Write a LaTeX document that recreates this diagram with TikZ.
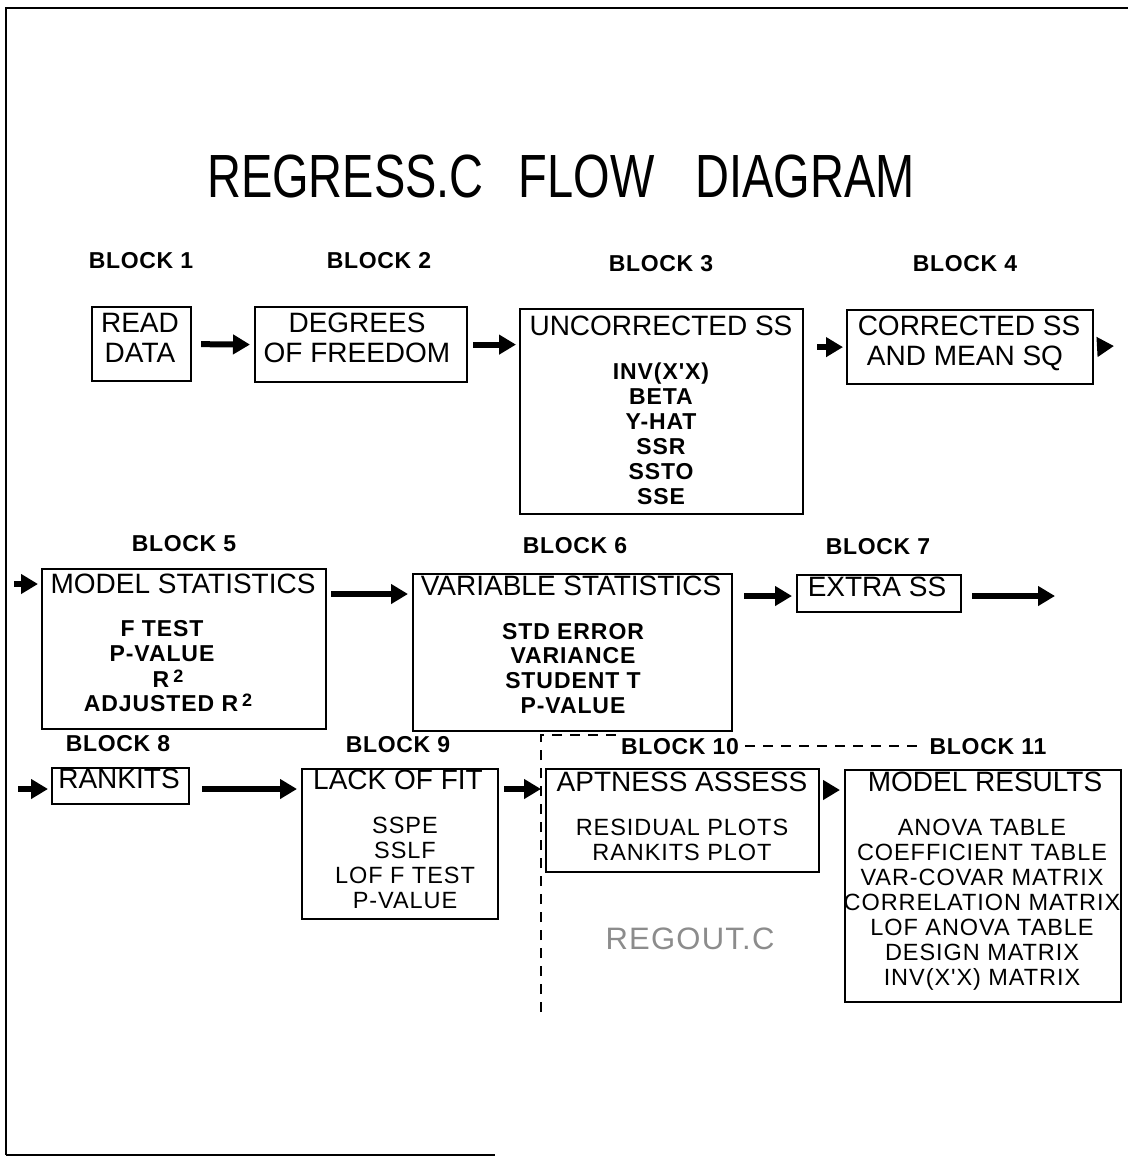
\documentclass[tikz,border=0pt]{standalone}
\usepackage{fontspec}
\setmainfont{Liberation Sans}
\newfontfamily\titlefont[FakeStretch=0.77]{Liberation Sans}
\newfontfamily\itemfont[LetterSpace=4]{Liberation Sans}
\newfontfamily\blockfont[LetterSpace=3]{Liberation Sans}
\usetikzlibrary{arrows.meta}
\newcommand{\rsq}{R\hspace{4pt}\raisebox{5pt}{\fontsize{18}{18}\selectfont 2}}
\tikzset{
  box/.style={draw, line width=2.2pt, inner sep=0pt, anchor=north west},
  ttl/.style={font=\fontsize{28}{30}\selectfont, anchor=base, inner sep=0pt},
  itm/.style={font=\itemfont\fontsize{23.5}{25}\selectfont, anchor=base, inner sep=0pt},
  itmb/.style={font=\itemfont\bfseries\fontsize{23}{25}\selectfont, anchor=base, inner sep=0pt},
  blk/.style={font=\blockfont\bfseries\fontsize{23}{25}\selectfont, anchor=base, inner sep=0pt},
  arr/.style={line width=6pt, -{Triangle[length=17pt,width=19pt]}},
  dsh/.style={line width=1.6pt, dash pattern=on 10pt off 8pt},
  frame/.style={line width=2.4pt},
}
\begin{document}
\begin{tikzpicture}[x=1pt,y=-1pt]
\useasboundingbox (0,0) rectangle (1128,1157);
% frame
\draw[frame] (6,1155) -- (6,8) -- (1128,8);
\draw[frame] (6,1155) -- (495,1155);
% title
\node[font=\titlefont\fontsize{61}{61}\selectfont, anchor=base west, inner sep=0pt] (title) at (207,197)
  {REGRESS.C\hspace{22pt} FLOW\hspace{28pt} DIAGRAM};
% block labels
\node[blk] (l1) at (141,268) {BLOCK 1};
\node[blk] (l2) at (379,268) {BLOCK 2};
\node[blk] (l3) at (661,271) {BLOCK 3};
\node[blk] (l4) at (965,271) {BLOCK 4};
\node[blk] (l5) at (184,551) {BLOCK 5};
\node[blk] (l6) at (575,553) {BLOCK 6};
\node[blk] (l7) at (878,554) {BLOCK 7};
\node[blk] (l8) at (118,751) {BLOCK 8};
\node[blk] (l9) at (398,752) {BLOCK 9};
\node[blk] (l10) at (680,754) {BLOCK 10};
\node[blk] (l11) at (988,754) {BLOCK 11};
% boxes
\node[box, minimum width=99pt, minimum height=74pt] (b1) at (91,306) {};
\node[box, minimum width=212pt, minimum height=75pt] (b2) at (254,306) {};
\node[box, minimum width=283pt, minimum height=205pt] (b3) at (519,308) {};
\node[box, minimum width=246pt, minimum height=74pt] (b4) at (846,309) {};
\node[box, minimum width=284pt, minimum height=160pt] (b5) at (41,568) {};
\node[box, minimum width=319pt, minimum height=157pt] (b6) at (412,573) {};
\node[box, minimum width=164pt, minimum height=37pt] (b7) at (796,574) {};
\node[box, minimum width=137pt, minimum height=36pt] (b8) at (51,767) {};
\node[box, minimum width=196pt, minimum height=150pt] (b9) at (301,768) {};
\node[box, minimum width=273pt, minimum height=103pt] (b10) at (545,768) {};
\node[box, minimum width=276pt, minimum height=232pt] (b11) at (844,769) {};
% box texts
\node[ttl] (t1a) at (140,332) {READ};
\node[ttl] (t1b) at (140,362) {DATA};
\node[ttl] (t2a) at (357,332) {DEGREES};
\node[ttl] (t2b) at (357,362) {OF FREEDOM};
\node[ttl] (t3) at (661,335) {UNCORRECTED SS};
\foreach \t [count=\i] in {INV(X'X),BETA,Y-HAT,SSR,SSTO,SSE}
  \node[itmb] (t3i\i) at (661,{379+25*(\i-1)}) {\t};
\node[ttl] (t4a) at (969,335) {CORRECTED SS};
\node[ttl] (t4b) at (965,365) {AND MEAN SQ};
\node[ttl] (t5) at (183,593) {MODEL STATISTICS};
\node[itmb] (t5a) at (162,636) {F TEST};
\node[itmb] (t5b) at (162,661) {P-VALUE};
\node[itmb] (t5c) at (168,687) {\rsq};
\node[itmb] (t5d) at (168,711) {ADJUSTED \rsq};
\node[ttl] (t6) at (571,595) {VARIABLE STATISTICS};
\foreach \t [count=\i] in {STD ERROR,VARIANCE,STUDENT T,P-VALUE}
  \node[itmb] (t6i\i) at (573,{639+24.7*(\i-1)}) {\t};
\node[ttl] (t7) at (877,596) {EXTRA SS};
\node[ttl] (t8) at (119,788) {RANKITS};
\node[ttl] (t9) at (398,789) {LACK OF FIT};
\foreach \t [count=\i] in {SSPE,SSLF,LOF F TEST,P-VALUE}
  \node[itm] (t9i\i) at (405,{833+25*(\i-1)}) {\t};
\node[ttl] (t10) at (682,791) {APTNESS ASSESS};
\foreach \t [count=\i] in {RESIDUAL PLOTS,RANKITS PLOT}
  \node[itm] (t10i\i) at (682,{835+25*(\i-1)}) {\t};
\node[ttl] (t11) at (985,791) {MODEL RESULTS};
\foreach \t [count=\i] in {ANOVA TABLE,COEFFICIENT TABLE,VAR-COVAR MATRIX,CORRELATION MATRIX,LOF ANOVA TABLE,DESIGN MATRIX,INV(X'X) MATRIX}
  \node[itm] (t11i\i) at (982,{835+25*(\i-1)}) {\t};
\node[font=\itemfont\fontsize{31}{31}\selectfont, text=black!45, anchor=base, inner sep=0pt] (regout) at (690,949) {REGOUT.C};
% arrows
\coordinate (o4) at (1114,346);
\coordinate (i5) at (14,584);
\coordinate (o8) at (1055,596);
\coordinate (i9) at (18,789);
\draw[arr, shorten <=9pt, shorten >=4pt] (b1.east) -- (b2.west);
\draw[arr, shorten <=5pt, shorten >=3pt] (b2.east) -- (b2.east -| b3.west);
\draw[arr, shorten <=13pt, shorten >=3pt] (b3.east |- b4.west) -- (b4.west);
\draw[arr, shorten <=5pt] (b4.east) -- (o4);
\draw[arr, shorten >=3pt] (i5) -- (i5 -| b5.west);
\draw[arr, shorten <=4pt, shorten >=4pt] (b5.east |- 0,594) -- (b6.west |- 0,594);
\draw[arr, shorten <=11pt, shorten >=4pt] (b6.east |- 0,596) -- (b7.west |- 0,596);
\draw[arr, shorten <=10pt] (b7.east |- 0,596) -- (o8);
\draw[arr, shorten >=3pt] (i9) -- (i9 -| b8.west);
\draw[arr, shorten <=12pt, shorten >=4pt] (b8.east |- 0,789) -- (b9.west |- 0,789);
\draw[arr, shorten <=5pt, shorten >=4pt] (b9.east |- 0,789) -- (b10.west |- 0,789);
\draw[arr, shorten <=4pt, shorten >=4pt] (b10.east |- 0,790) -- (b11.west |- 0,790);
% dashed boundary of REGOUT.C
\coordinate (d1) at (541,1012);
\coordinate (d2) at (541,735);
\coordinate (d3) at (618,735);
\draw[dsh] (d1) -- (d2) -- (d3);
\draw[dsh, shorten <=6pt, shorten >=6pt] (l10.east |- 0,746) -- (l11.west |- 0,746);
\end{tikzpicture}
\end{document}
